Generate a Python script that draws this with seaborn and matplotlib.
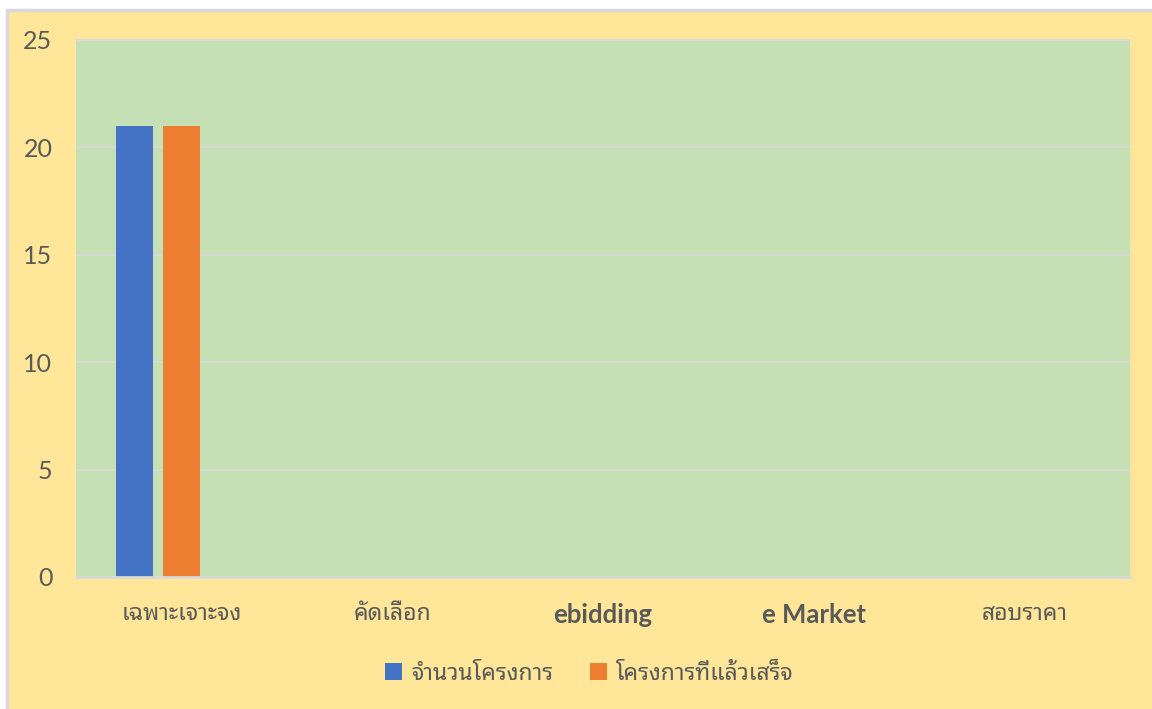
import matplotlib
matplotlib.use('Agg')
import matplotlib.pyplot as plt
from matplotlib.patches import Rectangle, Patch
import pandas as pd
import seaborn as sns

categories = ['เฉพาะเจาะจง', 'คัดเลือก', 'ebidding', 'e Market', 'สอบราคา']
series_names = ['จำนวนโครงการ', 'โครงการที่แล้วเสร็จ', 'อื่นๆ']
total_projects = [21, 0, 0, 0, 0]
finished_projects = [21, 0, 0, 0, 0]
other_projects = [0, 0, 0, 0, 0]
yticks = [0, 5, 10, 15, 20, 25]
bold_labels = ['ebidding', 'e Market']

colors = ['#4472C4', '#ED7D31', '#A5A5A5']
text_color = '#595959'
grid_color = '#D9D9D9'

sns.set_style('white')
plt.rcParams['font.family'] = ['Lato', 'Noto Sans Thai Looped', 'DejaVu Sans']

df = pd.DataFrame({
    'category': categories * 3,
    'series': [series_names[0]] * 5 + [series_names[1]] * 5 + [series_names[2]] * 5,
    'value': total_projects + finished_projects + other_projects,
})

fig = plt.figure(figsize=(11.52, 7.09), dpi=100)
fig.patch.set_facecolor('white')
# chart area (yellow) with light grey left/top border
fig.patches.append(Rectangle((7 / 1152, 0), 1, 1 - 10 / 709, transform=fig.transFigure,
                             facecolor='#FFE699', edgecolor='none', zorder=-10))
fig.lines.append(plt.Line2D([7 / 1152, 7 / 1152], [0, 1 - 10 / 709], transform=fig.transFigure,
                            color=grid_color, lw=2.5))
fig.lines.append(plt.Line2D([7 / 1152, 1], [1 - 10 / 709, 1 - 10 / 709], transform=fig.transFigure,
                            color=grid_color, lw=2.5))

ax = fig.add_axes([76 / 1152, 1 - 577 / 709, (1130 - 76) / 1152, (577 - 40) / 709])
ax.set_facecolor('#C5E0B4')

sns.barplot(data=df, x='category', y='value', hue='series', order=categories,
            hue_order=series_names, palette=colors, saturation=1, width=0.67, gap=0.21,
            linewidth=0, edgecolor='none', legend=False, ax=ax, zorder=3)

ax.set_ylim(0, 25)
ax.set_xlim(-0.5, 4.5)
ax.set_yticks(yticks)
ax.set_yticklabels([str(t) for t in yticks])
ax.yaxis.grid(True, color=grid_color, lw=1.3, zorder=0)
ax.set_axisbelow(True)
for side in ['left', 'right']:
    ax.spines[side].set_visible(False)
ax.spines['top'].set_color(grid_color)
ax.spines['top'].set_linewidth(1.3)
ax.spines['bottom'].set_color(grid_color)
ax.spines['bottom'].set_linewidth(2)
ax.spines['bottom'].set_zorder(5)
ax.set_xlabel('')
ax.set_ylabel('')
ax.tick_params(axis='y', length=0, pad=17, labelsize=18, labelcolor=text_color)
ax.tick_params(axis='x', length=0, pad=19, labelsize=16.5, labelcolor=text_color)
for lbl in ax.get_xticklabels():
    if lbl.get_text() in bold_labels:
        lbl.set_fontweight('bold')
        lbl.set_fontsize(18.5)

handles = [Patch(facecolor=colors[0], edgecolor='none'),
           Patch(facecolor=colors[1], edgecolor='none')]
fig.legend(handles, series_names[:2], loc='center', bbox_to_anchor=(589 / 1152, 1 - 673 / 709),
           ncol=2, frameon=False, fontsize=16.5, labelcolor=text_color,
           handlelength=0.75, handleheight=0.75, handletextpad=0.4, columnspacing=1.6)

fig.savefig('out.png', dpi=100)
